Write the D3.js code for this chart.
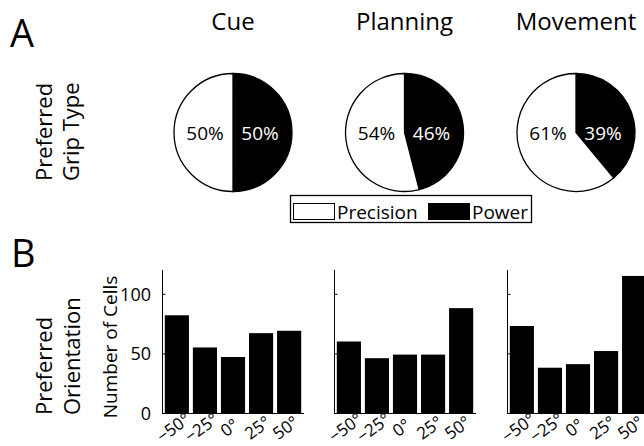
<!DOCTYPE html>
<html>
<head>
<meta charset="utf-8">
<script src="https://cdn.jsdelivr.net/npm/d3@7"></script>
<style>
  body { margin: 0; background: #fff; }
  svg { display: block; font-family: "Open Sans", sans-serif; }
</style>
</head>
<body>
<div id="chart"></div>
<script>
'use strict';

const stages = ["Cue", "Planning", "Movement"];
const precisionPct = [50, 54, 61];
const powerPct = [50, 46, 39];
const gripTypes = ["Precision", "Power"];

const orientations = ["\u221250\u00b0", "\u221225\u00b0", "0\u00b0", "25\u00b0", "50\u00b0"];
const cueCounts = [82, 55, 47, 67, 69];
const planningCounts = [60, 46, 49, 49, 88];
const movementCounts = [73, 38, 41, 52, 115];
const countTicks = [0, 50, 100];

(function() {

  const m = { width: 644, height: 446 };

  const svg = d3.select('#chart')
    .append('svg')
    .attr('width', m.width)
    .attr('height', m.height);

  // ---------- panel A: pies ----------
  const pieX = d3.scalePoint().domain(stages).range([233, 576]);
  const pieY = 132.5;
  const r = 59;

  const pie = d3.pie().sort(null).value(d => d.v);
  const arc = d3.arc().innerRadius(0).outerRadius(r);
  const fill = d3.scaleOrdinal().domain(gripTypes).range(["#fff", "#000"]);

  svg.append('text')
    .attr('x', 10).attr('y', 47)
    .style('font-size', '38px')
    .text('A');

  let labA = svg.append('text')
    .attr('transform', 'translate(0,181)rotate(-90)')
    .style('font-size', '22px');
  labA.append('tspan').attr('x', 0).attr('y', 52).text('Preferred');
  labA.append('tspan').attr('x', 0).attr('y', 79).text('Grip Type');

  stages.forEach(function(s, i) {
    let cx = pieX(s);
    svg.append('text')
      .attr('x', cx).attr('y', 30)
      .attr('text-anchor', 'middle')
      .style('font-size', '24px')
      .text(s);

    let g = svg.append('g').attr('transform', 'translate(' + cx + ',' + pieY + ')');
    let slices = [{ k: "Power", v: powerPct[i] }, { k: "Precision", v: precisionPct[i] }];
    g.selectAll('path')
      .data(pie(slices))
      .enter()
      .append('path')
      .attr('d', arc)
      .attr('fill', d => fill(d.data.k))
      .attr('stroke', '#000')
      .attr('stroke-width', 1.3);

    g.append('text')
      .attr('x', -28).attr('y', 7)
      .attr('text-anchor', 'middle')
      .style('font-size', '19px')
      .attr('fill', '#000')
      .text(precisionPct[i] + '%');
    g.append('text')
      .attr('x', 27).attr('y', 7)
      .attr('text-anchor', 'middle')
      .style('font-size', '19px')
      .attr('fill', '#fff')
      .text(powerPct[i] + '%');
  });

  // legend
  let lg = svg.append('g');
  lg.append('rect')
    .attr('x', 290.5).attr('y', 195.5)
    .attr('width', 241).attr('height', 27)
    .attr('fill', '#fff').attr('stroke', '#000').attr('stroke-width', 1.3);
  const legX = [293, 428];
  gripTypes.forEach(function(t, i) {
    lg.append('rect')
      .attr('x', legX[i] + 0.5).attr('y', 203.5)
      .attr('width', 41).attr('height', 16)
      .attr('fill', fill(t)).attr('stroke', '#000');
    lg.append('text')
      .attr('x', legX[i] + 44).attr('y', 218.5)
      .style('font-size', '19px')
      .text(t);
  });

  // ---------- panel B: histograms ----------
  svg.append('text')
    .attr('x', 11).attr('y', 267)
    .style('font-size', '38px')
    .text('B');

  let labB = svg.append('text')
    .attr('transform', 'translate(0,415)rotate(-90)')
    .style('font-size', '22px');
  labB.append('tspan').attr('x', 0).attr('y', 52).text('Preferred');
  labB.append('tspan').attr('x', 0).attr('y', 80).text('Orientation');

  svg.append('text')
    .attr('transform', 'translate(117,347)rotate(-90)')
    .attr('text-anchor', 'middle')
    .style('font-size', '19px')
    .text('Number of Cells');

  const y = d3.scaleLinear().domain([0, 120]).range([413, 270]);
  const axisX = [162, 334, 507];
  const allCounts = [cueCounts, planningCounts, movementCounts];

  allCounts.forEach(function(counts, i) {
    let x0 = axisX[i];
    let x = d3.scaleBand()
      .domain(orientations)
      .range([x0, x0 + 142])
      .paddingInner(0.14)
      .paddingOuter(0.1);

    let g = svg.append('g');
    g.selectAll('.bar')
      .data(counts)
      .enter()
      .append('rect')
      .attr('class', 'bar')
      .attr('x', (d, j) => x(orientations[j]))
      .attr('y', d => y(d))
      .attr('width', x.bandwidth())
      .attr('height', d => y(0) - y(d))
      .attr('fill', '#000');

    // y axis, ticks pointing inward
    let yAxis = d3.axisRight(y).tickValues(countTicks).tickSize(3).tickFormat('');
    let ya = g.append('g')
      .attr('transform', 'translate(' + (x0 + 0.5) + ',0)')
      .call(yAxis);
    ya.select('.domain').attr('d', 'M0,' + y(120) + 'V' + y(0));

    g.append('line')
      .attr('x1', x0).attr('x2', x0 + 142)
      .attr('y1', y(0) + 0.5).attr('y2', y(0) + 0.5)
      .attr('stroke', '#000');

    if (i === 0) {
      g.selectAll('.ylab')
        .data(countTicks)
        .enter()
        .append('text')
        .attr('x', x0 - 11)
        .attr('y', d => y(d) + 7)
        .attr('text-anchor', 'end')
        .style('font-size', '18px')
        .text(d => d);
    }

    g.selectAll('.xlab')
      .data(orientations)
      .enter()
      .append('text')
      .attr('transform', d => 'translate(' + (x(d) + x.bandwidth() / 2) + ',432.5)rotate(-36)')
      .attr('text-anchor', 'middle')
      .style('font-size', '17px')
      .text(d => d);
  });

})();
</script>
</body>
</html>
